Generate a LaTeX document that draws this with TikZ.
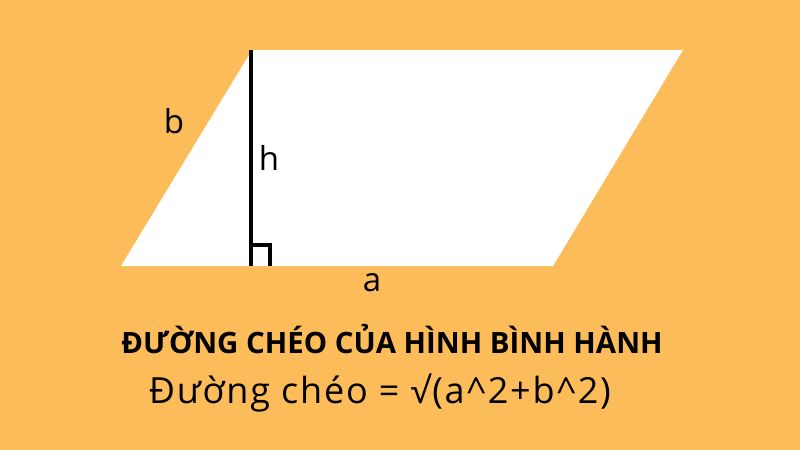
\documentclass[tikz,border=0pt]{standalone}
\usepackage{fontspec}
\setmainfont{Open Sans}
\usetikzlibrary{calc}
\definecolor{bgorange}{HTML}{FDBC5A}

\begin{document}
\begin{tikzpicture}[x=1pt,y=-1pt]
	% Background
	\fill[bgorange] (0,0) rectangle (800,450);
	\useasboundingbox (0,0) rectangle (800,450);

	% Parallelogram
	\begin{scope}
		\coordinate (parbottomleft) at (121,266);
		\coordinate (parbottomright) at (553,266);
		\coordinate (partopright) at (683,50);
		\coordinate (partopleft) at (252,50);
		\fill[white] (parbottomleft)--(parbottomright)--(partopright)--(partopleft)--cycle;

		% Height with right angle
		\coordinate (hbottom) at (251,266);
		\coordinate (htop) at (251,50);
		\draw[line width=4pt] (hbottom)--(htop);
		\draw[line width=3.5pt] ($(hbottom)+(0,-21)$) -- ++(19,0) -- ++(0,21);

		% Labels
		\node (btext) at (174,121) {\fontsize{33}{36}\selectfont b};
		\node (htext) at (269,158) {\fontsize{33}{36}\selectfont h};
		\node (atext) at (372,283) {\fontsize{33}{36}\selectfont a};
	\end{scope}

	% Title and formula
	\node[anchor=base] (titletext) at (392,353) {\fontsize{29.4}{32}\selectfont\bfseries ĐƯỜNG CHÉO CỦA HÌNH BÌNH HÀNH};
	\node[anchor=base west, inner sep=0pt] (formulatext) at (149,403) {\fontsize{36}{38}\selectfont\addfontfeatures{LetterSpace=5}Đường chéo = √(a\textasciicircum 2+b\textasciicircum 2)};
\end{tikzpicture}
\end{document}
